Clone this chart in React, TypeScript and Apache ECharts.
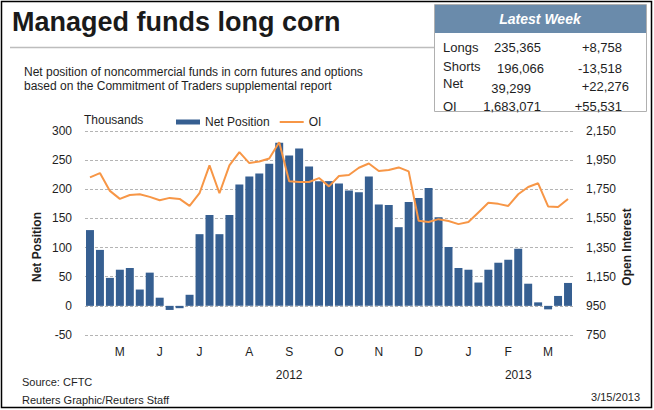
import React, { useEffect, useRef } from "react";
import * as echarts from "echarts";

const FONT = "'Liberation Sans', Arial, sans-serif";

// Weekly COT report dates (Tuesdays), April 10 2012 .. March 12 2013
const FIRST_REPORT = Date.UTC(2012, 3, 10);
const WEEK_COUNT = 49;
const weekDates: string[] = Array.from({ length: WEEK_COUNT }, (_, i) =>
  new Date(FIRST_REPORT + i * 7 * 86400000).toISOString().slice(0, 10)
);

// Net position of noncommercial funds, thousands of contracts
const netPosition = [
  130, 96, 48, 62, 65, 28, 57, 14, -7, -4,
  19, 123, 156, 123, 156, 208, 222, 227, 244, 280,
  258, 270, 239, 214, 214, 210, 198, 195, 222, 174,
  173, 135, 178, 185, 202, 152, 101, 65, 62, 40,
  62, 74, 79, 98, 38, 6, -6, 17, 39.3,
];

// Open interest, thousands of contracts
const openInterest = [
  1832, 1861, 1739, 1684, 1711, 1716, 1698, 1675, 1691, 1684,
  1636, 1723, 1914, 1723, 1914, 2005, 1930, 1941, 1961, 2073,
  1805, 1800, 1800, 1827, 1770, 1841, 1848, 1898, 1927, 1875,
  1882, 1900, 1873, 1534, 1525, 1545, 1532, 1511, 1525, 1591,
  1657, 1650, 1636, 1716, 1766, 1791, 1632, 1628, 1683,
];

// Month initials shown under the week where each month begins
const monthTickIndex = [3, 7, 11, 16, 20, 25, 29, 33, 38, 42, 46];
const monthLabels = ["M", "J", "J", "A", "S", "O", "N", "D", "J", "F", "M"];
const yearTickIndex = [20, 43];
const yearLabels = ["2012", "2013"];

const oiTicks = [750, 950, 1150, 1350, 1550, 1750, 1950, 2150];

// Latest-week table
const tableRows = ["Longs", "Shorts", "Net", "OI"];
const tableLatest = ["235,365", "196,066", "39,299", "1,683,071"];
const tableChange = ["+8,758", "-13,518", "+22,276", "+55,531"];

const BAR_COLOR = "#365f91";
const LINE_COLOR = "#f79646";
const TEXT = "#1e1e1e";

function labelAt(indices: number[], labels: string[]) {
  const map: Record<string, string> = {};
  indices.forEach((idx, k) => {
    map[weekDates[idx]] = labels[k];
  });
  return map;
}

export default function App() {
  const ref = useRef<HTMLDivElement>(null);

  useEffect(() => {
    document.body.style.margin = "0";
    if (!ref.current) return;
    const chart = echarts.init(ref.current, undefined, { renderer: "svg" });

    const monthMap = labelAt(monthTickIndex, monthLabels);
    const yearMap = labelAt(yearTickIndex, yearLabels);

    // table cell placement
    const labelY = [47, 66, 83, 106];
    const valueY = [47, 68, 88, 106];
    const latestRight = [541, 544, 531, 541];
    const changeRight = [622, 622, 629, 622];
    const tableTexts: any[] = [];
    tableRows.forEach((name, i) => {
      tableTexts.push({
        type: "text",
        x: 443,
        y: labelY[i],
        style: { text: name, font: `13px ${FONT}`, fill: TEXT, verticalAlign: "middle" },
      });
      tableTexts.push({
        type: "text",
        x: latestRight[i],
        y: valueY[i],
        style: { text: tableLatest[i], font: `13px ${FONT}`, fill: TEXT, align: "right", verticalAlign: "middle" },
      });
      tableTexts.push({
        type: "text",
        x: changeRight[i],
        y: i === 2 ? 86 : valueY[i],
        style: { text: tableChange[i], font: `13px ${FONT}`, fill: TEXT, align: "right", verticalAlign: "middle" },
      });
    });

    const option: any = {
      animation: false,
      backgroundColor: "#ffffff",
      textStyle: { fontFamily: FONT },
      grid: { left: 85, right: 81, top: 131, bottom: 75, containLabel: false },
      legend: {
        left: 171,
        top: 111,
        itemWidth: 24,
        itemHeight: 5,
        itemGap: 10,
        textStyle: { fontSize: 12, color: TEXT, fontFamily: FONT },
        data: [
          { name: "Net Position", icon: "rect" },
          { name: "OI", icon: "path://M0,0H24V2H0Z" },
        ],
      },
      xAxis: [
        {
          type: "category",
          data: weekDates,
          axisLine: { show: false },
          axisTick: { show: false },
          axisLabel: {
            interval: (i: number) => monthTickIndex.includes(i),
            formatter: (v: string) => monthMap[v] || "",
            margin: 11,
            fontSize: 12,
            color: TEXT,
          },
        },
        {
          type: "category",
          data: weekDates,
          position: "bottom",
          offset: 23,
          axisLine: { show: false },
          axisTick: { show: false },
          axisLabel: {
            interval: (i: number) => yearTickIndex.includes(i),
            formatter: (v: string) => yearMap[v] || "",
            margin: 11,
            fontSize: 12,
            color: TEXT,
          },
        },
      ],
      yAxis: [
        {
          type: "value",
          min: -50,
          max: 300,
          interval: 50,
          axisLine: { show: false },
          axisTick: { show: false },
          axisLabel: { fontSize: 12, color: TEXT, margin: 13 },
          splitLine: { lineStyle: { type: [3, 2], color: "#b4b4b4", width: 1 } },
        },
        {
          type: "value",
          min: 750,
          max: 2150,
          axisLine: { show: false },
          axisTick: { show: false },
          splitLine: { show: false },
          axisLabel: {
            customValues: oiTicks,
            fontSize: 12,
            color: TEXT,
            margin: 13,
            formatter: (v: number) => v.toLocaleString("en-US"),
          },
        },
      ],
      series: [
        {
          name: "Net Position",
          type: "bar",
          data: netPosition,
          barCategoryGap: "20%",
          itemStyle: { color: BAR_COLOR },
        },
        {
          name: "OI",
          type: "line",
          yAxisIndex: 1,
          data: openInterest,
          symbol: "none",
          lineStyle: { color: LINE_COLOR, width: 2 },
          itemStyle: { color: LINE_COLOR },
        },
      ],
      graphic: [
        {
          type: "rect",
          shape: { x: 1.5, y: 1.5, width: 650, height: 406 },
          style: { fill: "none", stroke: "#000", lineWidth: 1.5 },
          silent: true,
        },
        {
          type: "text",
          x: 12,
          y: 22,
          style: { text: "Managed funds long corn", font: `bold 27px ${FONT}`, fill: "#1a1a1a", verticalAlign: "middle" },
        },
        {
          type: "line",
          shape: { x1: 10, y1: 47.5, x2: 434, y2: 47.5 },
          style: { stroke: "#bdbdbd", lineWidth: 1.5 },
        },
        {
          type: "text",
          x: 24,
          y: 72,
          style: {
            text: "Net position of noncommercial funds in corn futures and options",
            font: `12px ${FONT}`,
            fill: TEXT,
            verticalAlign: "middle",
          },
        },
        {
          type: "text",
          x: 24,
          y: 86,
          style: {
            text: "based on the Commitment of Traders supplemental report",
            font: `12px ${FONT}`,
            fill: TEXT,
            verticalAlign: "middle",
          },
        },
        {
          type: "rect",
          shape: { x: 434.5, y: 4.5, width: 212, height: 107 },
          style: { fill: "#ffffff", stroke: "#b0b0b0", lineWidth: 1 },
        },
        {
          type: "rect",
          shape: { x: 435, y: 5, width: 211, height: 28 },
          style: { fill: "#6a8bab" },
        },
        {
          type: "text",
          x: 540,
          y: 19,
          style: {
            text: "Latest Week",
            font: `italic bold 14px ${FONT}`,
            fill: "#ffffff",
            align: "center",
            verticalAlign: "middle",
          },
        },
        ...tableTexts,
        {
          type: "text",
          x: 84,
          y: 120,
          style: { text: "Thousands", font: `12px ${FONT}`, fill: TEXT, verticalAlign: "middle" },
        },
        {
          type: "text",
          x: 37,
          y: 247,
          rotation: Math.PI / 2,
          style: { text: "Net Position", font: `bold 12px ${FONT}`, fill: TEXT, align: "center", verticalAlign: "middle" },
        },
        {
          type: "text",
          x: 627,
          y: 247,
          rotation: Math.PI / 2,
          style: { text: "Open Interest", font: `bold 12px ${FONT}`, fill: TEXT, align: "center", verticalAlign: "middle" },
        },
        {
          type: "text",
          x: 22,
          y: 382,
          style: { text: "Source: CFTC", font: `11px ${FONT}`, fill: TEXT, verticalAlign: "middle" },
        },
        {
          type: "text",
          x: 22,
          y: 400,
          style: { text: "Reuters Graphic/Reuters Staff", font: `11px ${FONT}`, fill: TEXT, verticalAlign: "middle" },
        },
        {
          type: "text",
          x: 640,
          y: 397,
          style: { text: "3/15/2013", font: `11px ${FONT}`, fill: TEXT, align: "right", verticalAlign: "middle" },
        },
      ],
    };

    chart.setOption(option);
    return () => chart.dispose();
  }, []);

  return <div ref={ref} style={{ width: 654, height: 410 }} />;
}
